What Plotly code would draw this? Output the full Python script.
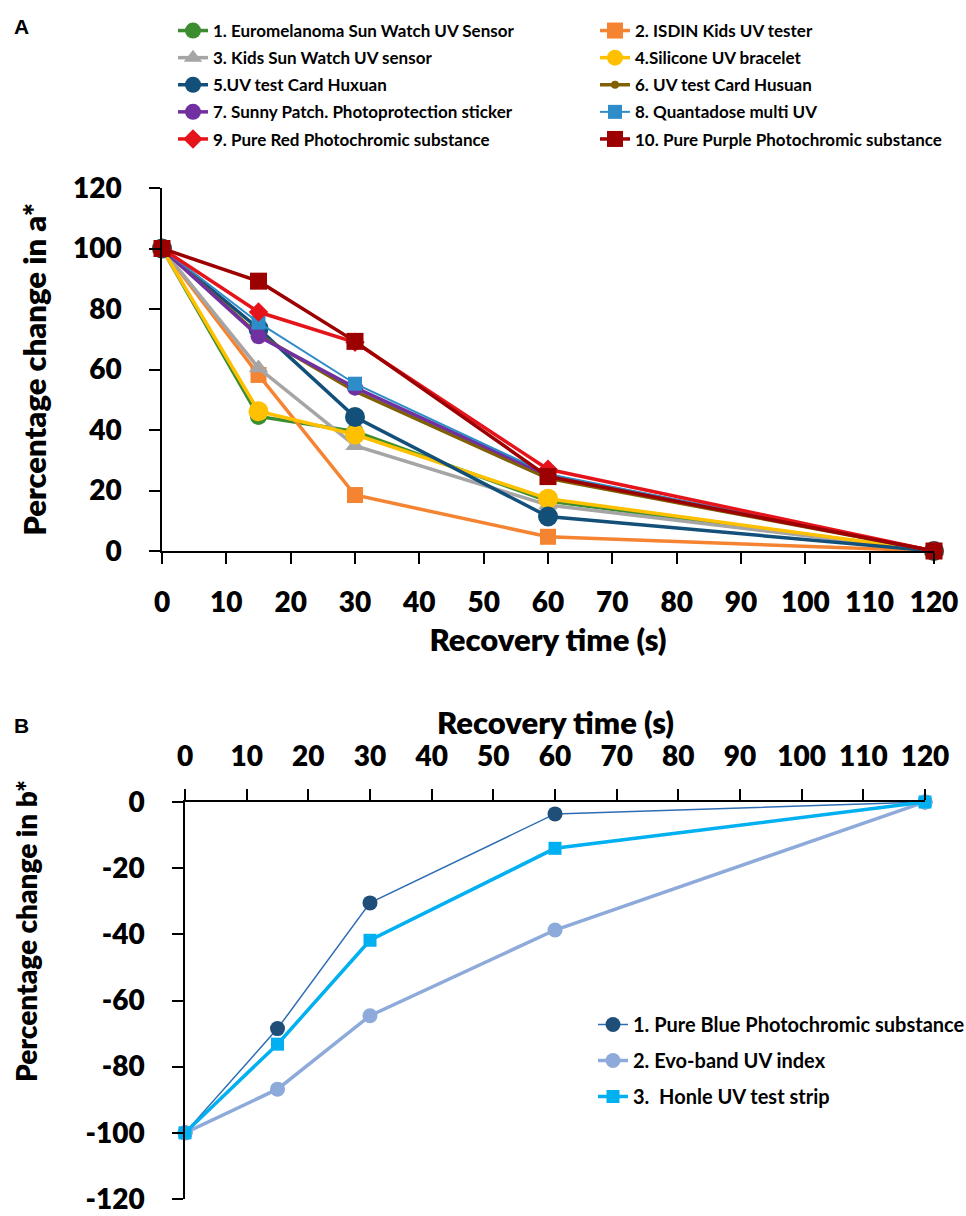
import plotly.graph_objects as go

# ---------------- data ----------------
time_a = [0, 15, 30, 60, 120]
names_a = [
    "1. Euromelanoma Sun Watch UV Sensor",
    "2. ISDIN Kids UV tester",
    "3. Kids Sun Watch UV sensor",
    "4.Silicone UV bracelet",
    "5.UV test Card Huxuan",
    "6. UV test Card Husuan",
    "7. Sunny Patch. Photoprotection sticker",
    "8. Quantadose multi UV",
    "9. Pure Red Photochromic substance",
    "10. Pure Purple Photochromic substance",
]
euromelanoma = [100, 44.5, 39.5, 16.5, 0]
isdin = [100, 58.2, 18.5, 4.7, 0]
kids_sun_watch = [100, 60.5, 34.8, 15.2, 0]
silicone = [100, 46.2, 38.5, 17.3, 0]
card_huxuan = [100, 73.5, 44.3, 11.4, 0]
card_husuan = [100, 71.5, 52.8, 24.0, 0]
sunny_patch = [100, 71.0, 54.0, 25.0, 0]
quantadose = [100, 75.5, 55.3, 25.5, 0]
pure_red = [100, 79.0, 69.0, 27.0, 0]
pure_purple = [100, 89.2, 69.3, 24.6, 0]

time_b = [0, 15, 30, 60, 120]
names_b = [
    "1. Pure Blue Photochromic substance",
    "2. Evo-band UV index",
    "3.  Honle UV test strip",
]
pure_blue = [-100, -68.5, -30.5, -3.6, 0]
evo_band = [-100, -86.8, -64.6, -38.7, 0]
honle = [-100, -73.2, -41.8, -14.0, 0]

x_ticks = list(range(0, 121, 10))
y_ticks_a = list(range(0, 121, 20))
y_ticks_b = list(range(-120, 1, 20))

# ---------------- styles ----------------
series_a = [euromelanoma, isdin, kids_sun_watch, silicone, card_huxuan,
            card_husuan, sunny_patch, quantadose, pure_red, pure_purple]
colors_a = ["#3C8D2F", "#F58432", "#A5A5A5", "#FFC000", "#12507A",
            "#806000", "#7030A0", "#2E8CC8", "#E5141B", "#9C0000"]
symbols_a = ["circle", "square", "triangle-up", "circle", "circle",
             "circle", "circle", "square", "diamond", "square"]
sizes_a = [17, 16, 17, 20, 20, 8, 16, 14, 15, 17]
widths_a = [3.5, 3.5, 3.5, 3.5, 3.5, 3.5, 3.5, 2, 3.5, 3.5]

series_b = [pure_blue, evo_band, honle]
line_colors_b = ["#2E6DB4", "#8EAADB", "#00B0F0"]
marker_colors_b = ["#1F4E79", "#8EAADB", "#00B0F0"]
symbols_b = ["circle", "circle", "square"]
sizes_b = [15, 15, 13]
widths_b = [1.5, 3.5, 3.5]

FONT = "Lato"
fig = go.Figure()

for i, (ys, nm) in enumerate(zip(series_a, names_a)):
    fig.add_trace(go.Scatter(
        x=time_a, y=ys, name=nm, mode="lines+markers",
        line=dict(color=colors_a[i], width=widths_a[i]),
        marker=dict(color=colors_a[i], symbol=symbols_a[i], size=sizes_a[i]),
        xaxis="x", yaxis="y", cliponaxis=False,
        legend="legend" if i % 2 == 0 else "legend2",
        legendgroup="a%d" % i,
    ))

for i, (ys, nm) in enumerate(zip(series_b, names_b)):
    fig.add_trace(go.Scatter(
        x=time_b, y=ys, name=nm, mode="lines+markers",
        line=dict(color=line_colors_b[i], width=widths_b[i]),
        marker=dict(color=marker_colors_b[i], symbol=symbols_b[i], size=sizes_b[i]),
        xaxis="x2", yaxis="y2", cliponaxis=False,
        legend="legend3", legendgroup="b%d" % i,
    ))

H = 1216.0
W = 966.0


def py(p):
    return (H - p) / H


def px(p):
    return p / W


tick_font = dict(family=FONT, size=28, color="black", weight=800)
title_font = dict(family=FONT, size=31, color="black", weight=800)
axis_common = dict(showline=True, linecolor="black", linewidth=1.5,
                   ticks="outside", tickcolor="black", tickwidth=1.5,
                   ticklen=11, showgrid=False, zeroline=False,
                   tickfont=tick_font, ticklabeloverflow="allow")

legend_font = dict(family=FONT, size=17, color="black", weight="bold")

fig.update_layout(
    width=966, height=1216,
    margin=dict(l=0, r=0, t=0, b=0, autoexpand=False),
    paper_bgcolor="white", plot_bgcolor="white",
    xaxis=dict(domain=[px(162), px(934)], anchor="y", range=[0, 120],
               tickvals=x_ticks, ticklabelstandoff=15,
               title=dict(text="Recovery time (s)", font=title_font, standoff=12),
               **axis_common),
    yaxis=dict(domain=[py(551), py(188)], anchor="x", range=[0, 120],
               tickvals=y_ticks_a, ticklabelstandoff=22,
               title=dict(text="Percentage change in a*", font=title_font, standoff=17),
               **axis_common),
    xaxis2=dict(domain=[px(185), px(925)], anchor="y2", range=[0, 120],
                side="top", tickvals=x_ticks, ticklabelstandoff=12,
                **axis_common),
    yaxis2=dict(domain=[py(1199), py(802)], anchor="x2", range=[-120, 0],
                tickvals=y_ticks_b, ticktext=[str(v) for v in y_ticks_b],
                ticklabelstandoff=22,
                **axis_common),
    legend=dict(x=px(173), y=py(13), xanchor="left", yanchor="top",
                font=legend_font, traceorder="grouped", tracegroupgap=2,
                bgcolor="rgba(0,0,0,0)"),
    legend2=dict(x=px(595), y=py(13), xanchor="left", yanchor="top",
                 font=legend_font, traceorder="grouped", tracegroupgap=2,
                 bgcolor="rgba(0,0,0,0)"),
    legend3=dict(x=px(593), y=py(1005), xanchor="left", yanchor="top",
                 font=dict(family=FONT, size=20, color="black", weight="bold"),
                 traceorder="grouped", tracegroupgap=7,
                 bgcolor="rgba(0,0,0,0)"),
    annotations=[
        dict(text="A", x=px(12), y=py(27), xref="paper", yref="paper",
             xanchor="left", yanchor="middle", showarrow=False,
             font=dict(family="Liberation Sans", size=21, color="black", weight="bold")),
        dict(text="B", x=px(12), y=py(725), xref="paper", yref="paper",
             xanchor="left", yanchor="middle", showarrow=False,
             font=dict(family="Liberation Sans", size=21, color="black", weight="bold")),
        dict(text="Recovery time (s)", x=px((185 + 925) / 2), y=py(722),
             xref="paper", yref="paper", xanchor="center", yanchor="middle",
             showarrow=False, font=title_font),
        dict(text="Percentage change in b*", x=px(26), y=py(931),
             xref="paper", yref="paper", xanchor="center", yanchor="middle",
             textangle=-90, showarrow=False,
             font=dict(family=FONT, size=28, color="black", weight=800)),
    ],
)

fig.write_html("out.html")
